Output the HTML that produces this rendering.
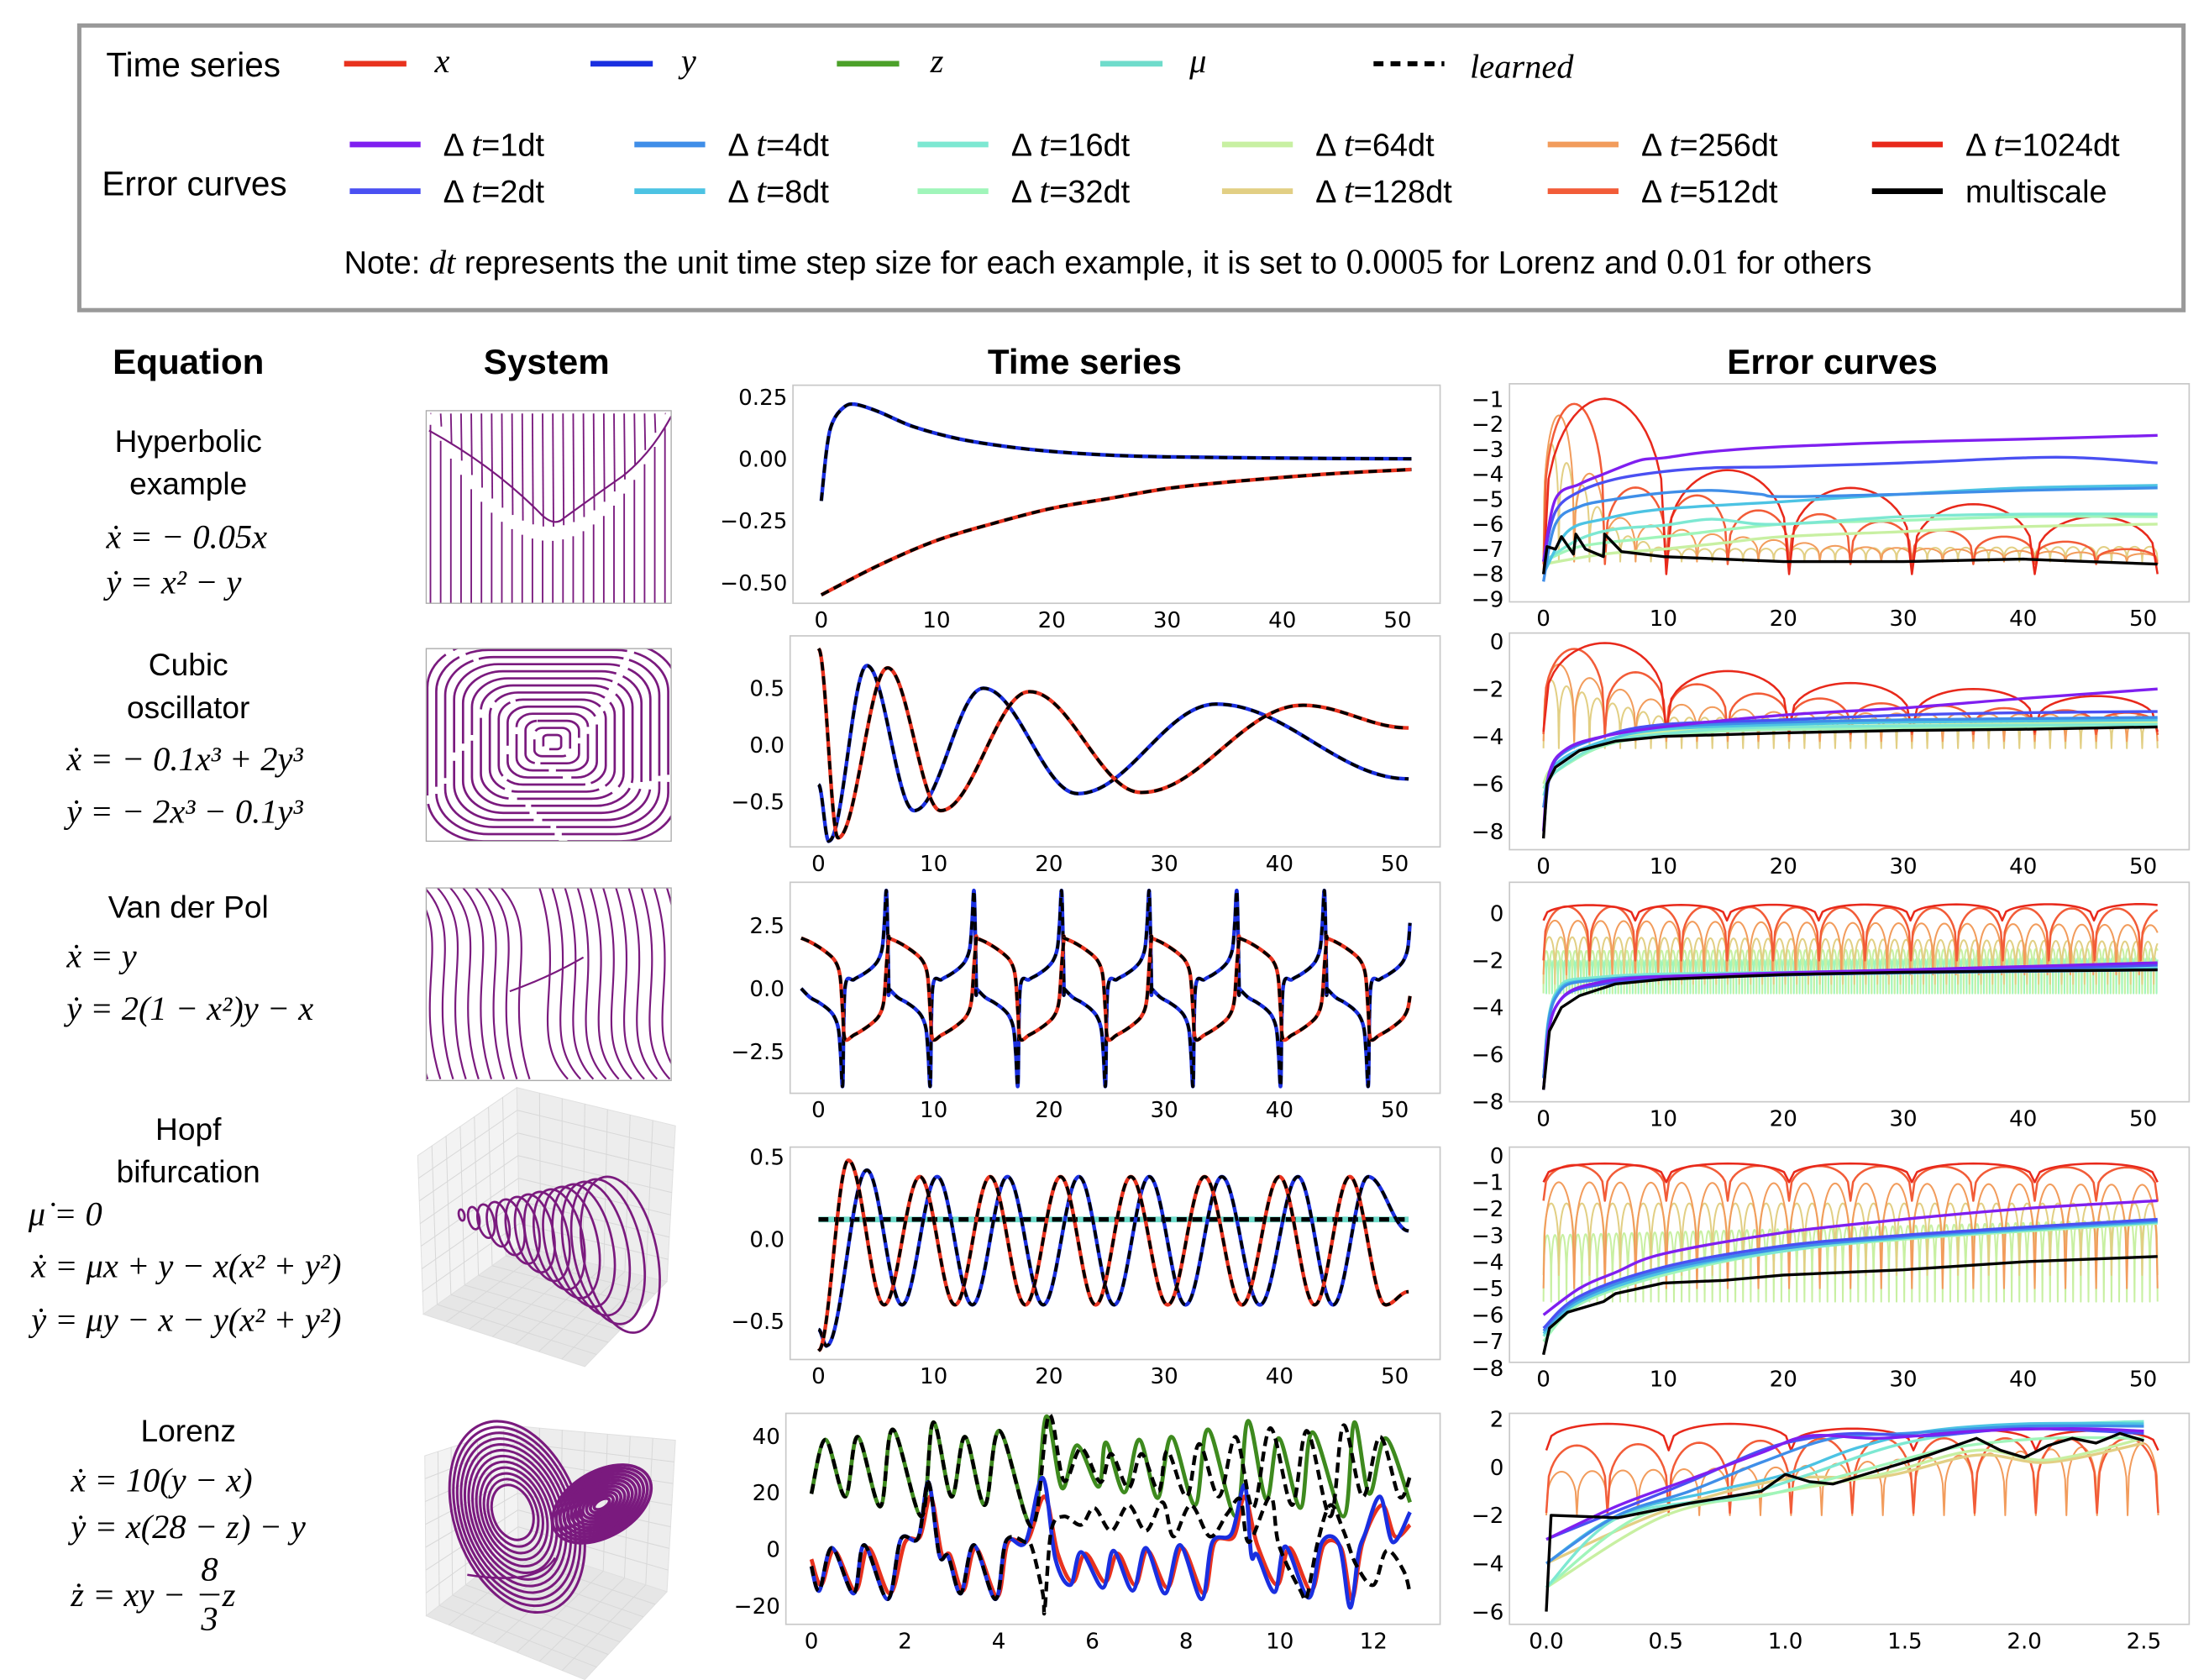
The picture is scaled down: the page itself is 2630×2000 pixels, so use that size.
<!DOCTYPE html>
<html><head><meta charset="utf-8">
<style>
html,body{margin:0;padding:0;background:#fff;}
svg{display:block;}
text{font-family:"Liberation Sans","DejaVu Sans",sans-serif;}
.tk{font-family:"DejaVu Sans","Liberation Sans",sans-serif;font-size:15.5px;fill:#000;}
.math{font-family:"Liberation Serif","DejaVu Serif",serif;font-size:24px;font-style:italic;}
</style></head>
<body>
<svg id="fig" xmlns="http://www.w3.org/2000/svg" width="2630" height="2000" viewBox="0 0 1560 1186.3">
<rect x="0" y="0" width="1560" height="1186.3" fill="#fff"/>
<g>
<rect x="56" y="18" width="1486" height="201" fill="none" stroke="#999" stroke-width="3"/>
<text x="75" y="54" font-size="24">Time series</text>
<line x1="243" y1="45" x2="287" y2="45" stroke="#e8321e" stroke-width="4"/>
<text x="307" y="51" class="math" font-size="27">x</text>
<line x1="417" y1="45" x2="461" y2="45" stroke="#1a2fe0" stroke-width="4"/>
<text x="481" y="51" class="math" font-size="27">y</text>
<line x1="591" y1="45" x2="635" y2="45" stroke="#4ca12a" stroke-width="4"/>
<text x="657" y="51" class="math" font-size="27">z</text>
<line x1="777" y1="45" x2="821" y2="45" stroke="#6fdccb" stroke-width="4"/>
<text x="840" y="51" class="math" font-size="27">μ</text>
<line x1="970" y1="45" x2="1020" y2="45" stroke="#000" stroke-width="3.5" stroke-dasharray="7,5"/>
<text x="1038" y="55" class="math" font-size="29">learned</text>
<text x="72" y="138" font-size="24">Error curves</text>
<g id="errLegend"></g>
<text x="243" y="193" font-size="22.5">Note: <tspan class="math" font-size="25">dt</tspan> represents the unit time step size for each example, it is set to <tspan font-family="Liberation Serif" font-size="25">0.0005</tspan> for Lorenz and <tspan font-family="Liberation Serif" font-size="25">0.01</tspan> for others</text>
</g>
<text x="133" y="264" font-size="25" font-weight="bold" text-anchor="middle">Equation</text>
<text x="386" y="264" font-size="25" font-weight="bold" text-anchor="middle">System</text>
<text x="766" y="264" font-size="25" font-weight="bold" text-anchor="middle">Time series</text>
<text x="1294" y="264" font-size="25" font-weight="bold" text-anchor="middle">Error curves</text>
<g font-size="22">
<text x="133" y="319" text-anchor="middle">Hyperbolic</text>
<text x="133" y="349" text-anchor="middle">example</text>
<text x="75" y="387" class="math">ẋ = − 0.05x</text>
<text x="75" y="419" class="math">ẏ = x² − y</text>
<text x="133" y="477" text-anchor="middle">Cubic</text>
<text x="133" y="507" text-anchor="middle">oscillator</text>
<text x="47" y="544" class="math">ẋ = − 0.1x³ + 2y³</text>
<text x="47" y="581" class="math">ẏ = − 2x³ − 0.1y³</text>
<text x="133" y="648" text-anchor="middle">Van der Pol</text>
<text x="47" y="683" class="math">ẋ = y</text>
<text x="47" y="720" class="math">ẏ = 2(1 − x²)y − x</text>
<text x="133" y="805" text-anchor="middle">Hopf</text>
<text x="133" y="835" text-anchor="middle">bifurcation</text>
<text x="20" y="865" class="math">μ̇ = 0</text>
<text x="22" y="902" class="math">ẋ = μx + y − x(x² + y²)</text>
<text x="22" y="940" class="math">ẏ = μy − x − y(x² + y²)</text>
<text x="133" y="1018" text-anchor="middle">Lorenz</text>
<text x="50" y="1053" class="math">ẋ = 10(y − x)</text>
<text x="50" y="1086" class="math">ẏ = x(28 − z) − y</text>
<text x="50" y="1134" class="math">ż = xy −</text>
<text x="157" y="1134" class="math">z</text>
<text x="148" y="1116" class="math" font-style="normal" text-anchor="middle">8</text>
<line x1="141" y1="1126" x2="155" y2="1126" stroke="#000" stroke-width="1.2"/>
<text x="148" y="1151" class="math" font-style="normal" text-anchor="middle">3</text>
</g>
<g id="systems"></g>
<g id="panels"></g>
</svg>
<script>
// ---------- legend data ----------
const dtLabels = ['1dt','2dt','4dt','8dt','16dt','32dt','64dt','128dt','256dt','512dt','1024dt','multiscale'];
const dtColors = ['#7f1ff0','#4a50f2','#3f8ee8','#4cc3e3','#7de8d2','#a0f5ba','#c8f0a2','#e2cf84','#f29c5c','#f25c38','#e8291b','#000000'];

// ---------- time series data ----------
const hypY = [[0,-0.17],[0.5,0.05],[1,0.15],[2,0.21],[3,0.22],[5,0.19],[8,0.13],[12,0.08],[16,0.05],[20,0.03],[25,0.015],[30,0.008],[40,0.003],[51.2,0.0]];
const hypX = [[0,-0.55],[5,-0.43],[10,-0.33],[15,-0.26],[20,-0.2],[25,-0.16],[30,-0.12],[35,-0.095],[40,-0.075],[45,-0.058],[51.2,-0.043]];
const cubX = [[0,0.85],[1.7,-0.82],[6,0.68],[10.6,-0.58],[18.3,0.47],[28,-0.42],[42,0.35],[51.2,0.15]];
const cubY = [[0,-0.35],[0.9,-0.85],[4.2,0.7],[8.3,-0.58],[14.3,0.5],[22.5,-0.43],[34.5,0.36],[51.2,-0.3]];
const vdpPhase = [0,0.2,0.4,0.6,0.75,0.85,0.9,0.95,1.0];
const vdpXHalf = [2.0,1.85,1.65,1.4,1.15,0.8,0.3,-1.0,-2.0];
const vdpYHalf = [0.0,-0.35,-0.55,-0.8,-1.1,-1.6,-2.6,-3.8,0.0];
const vdpHalfPeriod = [3.8];
const vdpStart = [-1.5];
const hopfA = [[0,-0.68],[2.6,0.48],[5.7,-0.4],[8.8,0.38],[11.85,-0.4],[14.9,0.38],[17.95,-0.4],[21,0.38],[24.05,-0.4],[27.1,0.38],[30.3,-0.4],[33.5,0.38],[36.75,-0.4],[40,0.38],[43.05,-0.4],[46.1,0.38],[49.2,-0.4],[51.2,-0.32]];
const hopfB = [[0,-0.55],[0.7,-0.65],[4.2,0.42],[7.25,-0.4],[10.3,0.38],[13.35,-0.4],[16.4,0.38],[19.5,-0.4],[22.6,0.38],[25.65,-0.4],[28.7,0.38],[31.85,-0.4],[35,0.38],[38.3,-0.4],[41.6,0.38],[44.65,-0.4],[47.7,0.38],[51.2,0.05]];
const hopfMu = [[0,0.12],[51.2,0.12]];
const lorZ = [[0,19.6],[0.3,38.7],[0.72,18.6],[0.99,39.7],[1.47,15.1],[1.74,42.3],[2.35,11.6],[2.6,44.8],[2.99,18.6],[3.28,39.7],[3.7,15.6],[4.02,41.8],[4.71,8.0],[5.01,46.8],[5.35,21.6],[5.67,36.7],[6.13,22.1],[6.29,37.7],[6.68,20.1],[7.0,38.7],[7.39,18.1],[7.69,39.7],[8.19,15.6],[8.47,42.3],[9.06,11.6],[9.32,45.3],[9.71,17.6],[9.98,39.2],[10.44,14.6],[10.7,41.3],[11.36,11.6],[11.59,44.8],[11.91,19.6],[12.26,39.2],[12.78,16.6]];
const lorZLearned = [[0,19.6],[0.3,38.7],[0.72,18.6],[0.99,39.7],[1.47,15.1],[1.74,42.3],[2.35,11.6],[2.6,44.8],[2.99,18.6],[3.28,39.7],[3.7,15.6],[4.02,41.8],[4.71,8.0],[5.07,47.3],[5.39,24.2],[5.76,35.7],[6.17,23.7],[6.4,33.7],[6.77,21.6],[7.05,33.7],[7.41,20.6],[7.6,34.7],[8.01,18.6],[8.28,37.2],[8.7,18.6],[9.06,39.7],[9.43,14.6],[9.8,42.8],[10.26,15.6],[10.58,41.8],[11.08,11.6],[11.36,43.8],[11.77,18.6],[12.14,39.7],[12.55,18.6],[12.78,25.7]];
const lorY = [[0,-6],[0.17,-14.6],[0.44,0.5],[0.9,-15.6],[1.13,1.5],[1.63,-17.6],[1.91,3.5],[2.28,4],[2.5,23.7],[2.73,-2],[2.92,-2.5],[3.19,-15.6],[3.47,1.5],[3.93,-17.6],[4.16,3],[4.57,2.5],[4.94,25.2],[5.21,-3.5],[5.53,-12.6],[5.76,-1],[6.22,-13.6],[6.45,-0.5],[6.86,-14.6],[7.14,0.5],[7.55,-15.6],[7.87,1.5],[8.33,-17.6],[8.56,2.5],[8.97,5.5],[9.25,22.6],[9.39,-2],[9.52,-2],[9.89,-15.1],[10.12,1],[10.62,-17.1],[10.9,2.5],[11.27,1.5],[11.5,-20.6],[11.68,-1.5],[11.82,5.5],[12.14,18.6],[12.41,2.5],[12.78,13.1]];
const lorX = [[0,-3.5],[0.21,-12.6],[0.49,-0.5],[0.94,-14.6],[1.22,0.5],[1.68,-15.6],[2.0,2.5],[2.32,4.5],[2.55,18.6],[2.78,-1.5],[2.96,-2],[3.24,-14.6],[3.51,0.5],[3.97,-16.6],[4.2,2.5],[4.61,3],[4.98,18.6],[5.26,-1.5],[5.58,-11.6],[5.85,-1.5],[6.27,-11.6],[6.54,-1.5],[6.91,-12.6],[7.18,-0.5],[7.6,-13.6],[7.92,0.5],[8.38,-15.6],[8.61,2.5],[9.02,4.5],[9.25,18.6],[9.52,1.5],[9.94,-12.6],[10.21,0.5],[10.67,-14.6],[10.94,1.5],[11.31,0.5],[11.54,-17.6],[11.77,2.5],[12.18,15.6],[12.46,4.5],[12.78,8.6]];
const lorXYLearned = [[0,-6],[0.17,-14.6],[0.44,0.5],[0.9,-15.6],[1.13,1.5],[1.63,-17.6],[1.91,3.5],[2.28,4],[2.5,23.7],[2.73,-2],[2.92,-2.5],[3.19,-15.6],[3.47,1.5],[3.93,-17.6],[4.16,3],[4.57,2.5],[4.71,0.5],[4.94,-15.6],[4.98,-21.6],[5.12,6.5],[5.39,11.6],[5.76,8.6],[6.04,14.6],[6.4,6.5],[6.77,15.6],[7.14,6.5],[7.5,16.6],[7.73,4.5],[8.1,15.6],[8.51,4.5],[8.88,12.6],[9.16,17.6],[9.34,2.5],[9.8,18.6],[9.98,1.5],[10.44,-14.6],[10.58,-16.6],[10.81,2.5],[11.08,15.6],[11.36,6.5],[11.63,-5.5],[12.0,-12.6],[12.28,-0.5],[12.64,-7.5],[12.78,-15.6]];

// ---------- error curve data (log10 error) ----------
const hypSmooth = [
 [0,[[0,-7.5],[1,-5],[3,-4.4],[5,-4],[8,-3.45],[10,-3.35],[14,-3.1],[20,-2.9],[30,-2.72],[40,-2.6],[51.2,-2.45]]],
 [1,[[0,-7.5],[1,-5.5],[3,-4.7],[6,-4.2],[10,-3.9],[14,-3.75],[20,-3.7],[30,-3.55],[40,-3.35],[45,-3.35],[51.2,-3.55]]],
 [2,[[0,-8.3],[1,-6],[3,-5.3],[6,-5],[10,-4.75],[14,-4.65],[18,-4.8],[20,-4.9],[30,-4.8],[40,-4.65],[51.2,-4.55]]],
 [3,[[0,-8],[2,-6.3],[5,-5.8],[10,-5.4],[20,-5.1],[30,-4.8],[40,-4.55],[51.2,-4.45]]],
 [4,[[0,-7.5],[3,-6.6],[6,-6.2],[10,-6.05],[14,-5.8],[18,-6.0],[22,-5.95],[30,-5.7],[40,-5.6],[51.2,-5.6]]],
 [5,[[0,-7.5],[3,-6.9],[8,-6.6],[12,-6.4],[20,-6.0],[30,-5.85],[40,-5.7],[51.2,-5.7]]],
 [6,[[0,-7.6],[5,-7.2],[10,-7.0],[15,-6.75],[20,-6.5],[30,-6.3],[40,-6.1],[51.2,-6.0]]]
];
const hypArch = [
 [7,1.28,-7.5,[[0,-2.4],[2,-3.6],[4,-5],[6,-6.3],[10,-7.0],[51.2,-6.9]]],
 [8,2.56,-7.5,[[1.3,-1.65],[3.8,-3.95],[6.4,-5.75],[9,-6.05],[14,-6.4],[25,-6.9],[51.2,-7.2]]],
 [9,5.12,-7.6,[[2.5,-1.15],[7.7,-4.55],[12.8,-4.85],[17.9,-5.45],[23,-5.6],[28.2,-5.9],[33.3,-6.25],[38.4,-6.5],[43.5,-6.7],[48.6,-7.0]]],
 [10,10.24,-8.0,[[5,-0.95],[15.4,-3.85],[25.6,-4.55],[35.8,-5.2],[46,-5.7]]]
];
const hypMulti = [[0,-8],[0.3,-6.9],[1,-7],[1.5,-6.5],[2.5,-7.2],[2.7,-6.4],[3.5,-7],[5,-7.3],[5.1,-6.4],[6.5,-7.1],[10,-7.3],[20,-7.5],[30,-7.5],[40,-7.4],[51.2,-7.6]];

const cubSmooth = [
 [0,[[0,-8],[0.5,-5.5],[2,-4.5],[5,-4],[10,-3.6],[20,-3.1],[30,-2.8],[40,-2.4],[51.2,-2.0]]],
 [1,[[0,-8],[1,-5],[5,-4],[10,-3.5],[20,-3.3],[30,-3.1],[40,-3.0],[51.2,-2.95]]],
 [2,[[0,-7],[1,-5],[5,-4],[10,-3.6],[20,-3.4],[30,-3.3],[51.2,-3.2]]],
 [3,[[0,-7],[1,-5.2],[5,-4.2],[10,-3.7],[20,-3.5],[30,-3.4],[51.2,-3.3]]],
 [4,[[0,-6.5],[1,-5.5],[5,-4.3],[10,-3.9],[20,-3.6],[51.2,-3.5]]],
 [5,[[0,-6.2],[1,-5.5],[5,-4.4],[10,-4.0],[20,-3.7],[51.2,-3.6]]],
 [6,[[0,-6],[1,-5.2],[5,-4.2],[10,-3.8],[20,-3.6],[51.2,-3.4]]]
];
const cubArch = [
 [7,1.28,-4.5,[[0,-1.5],[5,-2.5],[10,-3.2],[51.2,-3.3]]],
 [8,2.56,-4.2,[[1,-0.9],[5,-1.8],[10,-2.6],[20,-3.0],[51.2,-3.1]]],
 [9,5.12,-3.9,[[2.5,-0.3],[7.7,-1.3],[12.8,-1.8],[18,-2.2],[23,-2.4],[28,-2.6],[33,-2.7],[38,-2.8],[43.5,-2.9],[48.6,-3.0]]],
 [10,10.24,-3.8,[[5,-0.05],[15.4,-1.25],[25.6,-1.75],[35.8,-2.0],[46,-2.3]]]
];
const cubMulti = [[0,-8.3],[0.3,-6],[1,-5.3],[3,-4.6],[6,-4.2],[10,-4.0],[20,-3.85],[30,-3.75],[40,-3.7],[51.2,-3.6]];

const vdpSmooth = [
 [0,[[0,-7.5],[1,-4],[5,-2.9],[15,-2.6],[30,-2.4],[51.2,-2.1]]],
 [1,[[0,-7.5],[1,-4],[5,-3],[15,-2.7],[30,-2.5],[51.2,-2.2]]],
 [2,[[0,-7],[1,-3.6],[5,-2.8],[20,-2.6],[51.2,-2.4]]],
 [3,[[0,-7],[1,-3.5],[5,-2.8],[20,-2.6],[51.2,-2.35]]],
 [4,[[0,-7],[1,-3.4],[5,-2.7],[20,-2.5],[51.2,-2.3]]]
];
const vdpArch = [
 [5,0.24,-3.4,[[0,-2.0],[51.2,-1.9]]],
 [6,0.48,-3.4,[[0,-1.6],[51.2,-1.5]]],
 [7,0.96,-3.0,[[0,-1.0],[51.2,-1.2]]],
 [8,1.91,-2.6,[[0,-0.3],[51.2,-0.5]]],
 [9,3.83,-2.0,[[0,0.3],[51.2,0.2]]],
 [10,7.65,-0.3,[[0,0.35],[51.2,0.4]]]
];
const vdpMulti = [[0,-7.5],[0.5,-5],[1.5,-4],[3,-3.5],[6,-3],[10,-2.8],[20,-2.6],[30,-2.5],[40,-2.45],[51.2,-2.4]];

const hopfSmooth = [
 [0,[[0,-6],[3,-5],[6,-4.4],[10,-3.7],[20,-2.9],[30,-2.4],[40,-2.0],[51.2,-1.7]]],
 [1,[[0,-6.5],[3,-5.3],[10,-4.2],[20,-3.4],[30,-3.0],[40,-2.7],[51.2,-2.4]]],
 [2,[[0,-6.6],[3,-5.4],[10,-4.3],[20,-3.5],[30,-3.05],[40,-2.75],[51.2,-2.45]]],
 [3,[[0,-6.7],[3,-5.5],[10,-4.4],[20,-3.5],[30,-3.1],[40,-2.8],[51.2,-2.5]]],
 [4,[[0,-6.8],[3,-5.5],[10,-4.4],[20,-3.6],[30,-3.1],[40,-2.8],[51.2,-2.5]]],
 [5,[[0,-7],[3,-5.6],[10,-4.5],[20,-3.6],[30,-3.15],[40,-2.85],[51.2,-2.55]]]
];
const hopfArch = [
 [6,0.64,-5.5,[[0,-3.0],[51.2,-2.4]]],
 [7,1.28,-4.5,[[0,-1.8],[51.2,-1.8]]],
 [8,2.56,-5.0,[[0,-1.0],[51.2,-1.1]]],
 [9,5.12,-1.7,[[0,-0.35],[51.2,-0.45]]],
 [10,10.24,-1.0,[[0,-0.3],[51.2,-0.3]]]
];
const hopfMulti = [[0,-7.5],[0.5,-6.5],[2,-5.9],[5,-5.5],[6,-5.2],[10,-4.8],[15,-4.7],[20,-4.5],[30,-4.3],[40,-4.0],[51.2,-3.8]];

const lorSmooth = [
 [0,[[0,-3],[0.3,-1.6],[0.6,-0.5],[0.9,0.6],[1.1,1.3],[1.4,1.2],[1.8,1.5],[2.2,1.6],[2.5,1.5]]],
 [1,[[0,-3],[0.3,-1.8],[0.6,-0.6],[0.9,0.7],[1.1,1.2],[1.3,1.4],[1.6,1.3],[2.0,1.6],[2.5,1.4]]],
 [2,[[0,-4],[0.3,-2],[0.6,-1],[0.9,0.2],[1.2,1.2],[1.5,1.4],[2,1.7],[2.5,1.7]]],
 [3,[[0,-4],[0.3,-2],[0.7,-1],[1.0,-0.3],[1.3,0.8],[1.6,1.5],[2,1.8],[2.5,1.8]]],
 [4,[[0,-5],[0.3,-2.1],[0.8,-1.2],[1.1,-0.3],[1.5,1.0],[2,1.7],[2.5,1.9]]],
 [5,[[0,-5],[0.4,-2],[0.9,-1.2],[1.3,-0.2],[1.7,0.8],[2.1,1.2],[2.5,1.2]]],
 [6,[[0,-5],[0.5,-2],[1,-1],[1.4,-0.3],[1.8,0.7],[2.1,0.3],[2.5,1.2]]],
 [7,[[0,-4],[0.5,-1.8],[1.0,-0.5],[1.4,-0.4],[1.8,0.5],[2.1,0.2],[2.5,1.0]]]
];
const lorArch = [
 [8,0.128,-2.0,[[0,-0.2],[1,0],[2.5,1]]],
 [9,0.256,-1.9,[[0.13,0.9],[0.6,1.0],[1.2,1.2],[2.5,1.2]]],
 [10,0.512,0.7,[[0.25,1.8],[0.77,1.8],[1.28,1.6],[2.5,1.5]]]
];
const lorMulti = [[0,-6],[0.02,-2],[0.3,-2.1],[0.6,-1.5],[0.9,-1],[1.0,-0.3],[1.1,-0.6],[1.2,-0.7],[1.3,-0.4],[1.5,0.2],[1.6,0.5],[1.8,1.2],[1.9,0.7],[2.0,0.4],[2.1,0.9],[2.2,1.2],[2.3,1.0],[2.4,1.4],[2.5,1.1]];

// ---------- tick data ----------
const tsXTicks50 = [0,10,20,30,40,50];
const lorXTicks = [0,2,4,6,8,10,12];
const errXTicksLor = [0,0.5,1.0,1.5,2.0,2.5];
const errXTickLabelsLor = ['0.0','0.5','1.0','1.5','2.0','2.5'];
const hypYTicks = [0.25,0,-0.25,-0.5];
const hypYTickLabels = ['0.25','0.00','−0.25','−0.50'];
const cubYTicks = [0.5,0,-0.5];
const cubYTickLabels = ['0.5','0.0','−0.5'];
const vdpYTicks = [2.5,0,-2.5];
const vdpYTickLabels = ['2.5','0.0','−2.5'];
const hopfYTicks = [0.5,0,-0.5];
const hopfYTickLabels = ['0.5','0.0','−0.5'];
const lorYTicks = [40,20,0,-20];
const err1YTicks = [-1,-2,-3,-4,-5,-6,-7,-8,-9];
const err2YTicks = [0,-2,-4,-6,-8];
const err4YTicks = [0,-1,-2,-3,-4,-5,-6,-7,-8];
const err5YTicks = [2,0,-2,-4,-6];

// ================= rendering =================
const NS = 'http://www.w3.org/2000/svg';
function el(tag, parent){ const e=document.createElementNS(NS,tag); parent.appendChild(e); return e; }
function fmtMinus(v){ return String(v).replace('-','−'); }

(function(){
  const g=document.getElementById('errLegend');
  const cols=[247,448,648,863,1093,1322];
  dtLabels.forEach((lab,i)=>{
    const c=cols[Math.floor(i/2)], y=(i%2===0)?102:135;
    const ln=el('line',g);
    
    
    ln.setAttribute('x1',c);ln.setAttribute('x2',c+50);ln.setAttribute('y1',y);ln.setAttribute('y2',y);
    ln.setAttribute('stroke',dtColors[i]);ln.setAttribute('stroke-width',4);
    const t=el('text',g);
    
    
    t.setAttribute('x',c+66);t.setAttribute('y',y+8);t.setAttribute('font-size','22.5');
    if(lab==='multiscale'){ t.textContent='multiscale'; }
    else { t.innerHTML='Δ <tspan font-family="Liberation Serif" font-style="italic" font-size="25">t</tspan>='+lab; }
  });
})();

function crPath(pts){
  if(pts.length<2) return '';
  let d='M'+pts[0][0].toFixed(2)+','+pts[0][1].toFixed(2);
  const n=pts.length;
  for(let i=0;i<n-1;i++){
    const p0=pts[Math.max(i-1,0)],p1=pts[i],p2=pts[i+1],p3=pts[Math.min(i+2,n-1)];
    const c1x=p1[0]+(p2[0]-p0[0])/6,c1y=p1[1]+(p2[1]-p0[1])/6;
    const c2x=p2[0]-(p3[0]-p1[0])/6,c2y=p2[1]-(p3[1]-p1[1])/6;
    d+=' C'+c1x.toFixed(2)+','+c1y.toFixed(2)+' '+c2x.toFixed(2)+','+c2y.toFixed(2)+' '+p2[0].toFixed(2)+','+p2[1].toFixed(2);
  }
  return d;
}
function linePath(pts){ return pts.map((p,i)=>(i?'L':'M')+p[0].toFixed(2)+','+p[1].toFixed(2)).join(' '); }
function cosInterp(ext){
  const out=[];
  for(let i=0;i<ext.length-1;i++){
    const a=ext[i],b=ext[i+1];
    for(let k=0;k<16;k++){ const s=k/16; out.push([a[0]+(b[0]-a[0])*s, a[1]+(b[1]-a[1])*(1-Math.cos(Math.PI*s))/2]); }
  }
  out.push(ext[ext.length-1]);
  return out;
}
function envAt(env,t){
  if(t<=env[0][0]) return env[0][1];
  for(let i=0;i<env.length-1;i++){ if(t<=env[i+1][0]){ const s=(t-env[i][0])/(env[i+1][0]-env[i][0]); return env[i][1]+(env[i+1][1]-env[i][1])*s; } }
  return env[env.length-1][1];
}
function archPoints(period,dip,env,tmax){
  const out=[];
  for(let t0=0;t0<tmax;t0+=period){
    const pk=envAt(env,t0+period/2);
    for(let k=0;k<=24;k++){
      const s=k/24, t=t0+s*period;
      if(t>tmax){ out.push([tmax, dip+(pk-dip)*Math.pow(Math.sin(Math.PI*(tmax-t0)/period),0.3)]); break; }
      out.push([t, dip+(pk-dip)*Math.pow(Math.max(Math.sin(Math.PI*s),0),0.3)]);
    }
  }
  return out;
}

const panelsG=document.getElementById('panels');
let clipId=0;
function makePanel(name, box, xa, xb, ya, yb){
  const g=el('g',panelsG);
  
  
  const cid='clip'+(clipId++);
  const cp=el('clipPath',g); cp.setAttribute('id',cid);
  const cr=el('rect',cp); cr.setAttribute('x',box[0]);cr.setAttribute('y',box[1]);cr.setAttribute('width',box[2]-box[0]);cr.setAttribute('height',box[3]-box[1]);
  const fr=el('rect',g);
  
  
  fr.setAttribute('x',box[0]);fr.setAttribute('y',box[1]);fr.setAttribute('width',box[2]-box[0]);fr.setAttribute('height',box[3]-box[1]);
  fr.setAttribute('fill','#fff');fr.setAttribute('stroke','#c8c8c8');fr.setAttribute('stroke-width','1');
  const plot=el('g',g); plot.setAttribute('clip-path','url(#'+cid+')');
  
  
  return {g,plot,box,X:t=>xa+xb*t,Y:v=>ya-yb*v};
}
function ticks(P, xt, xl, yt, yl){
  xt.forEach((t,i)=>{
    const tx=el('text',P.g);
    
    
    tx.setAttribute('class','tk');tx.setAttribute('x',P.X(t));tx.setAttribute('y',P.box[3]+17);tx.setAttribute('text-anchor','middle');
    tx.textContent=xl?xl[i]:fmtMinus(t);
  });
  yt.forEach((v,i)=>{
    const tx=el('text',P.g);
    
    
    tx.setAttribute('class','tk');tx.setAttribute('x',P.box[0]-4);tx.setAttribute('y',P.Y(v)+5.5);tx.setAttribute('text-anchor','end');
    tx.textContent=yl?yl[i]:fmtMinus(v);
  });
}
function series(P, pts, name, color, width, dashed, smooth){
  const px=pts.map(p=>[P.X(p[0]),P.Y(p[1])]);
  const pa=el('path',P.plot);
  
  
  pa.setAttribute('d',smooth===false?linePath(px):crPath(px));
  pa.setAttribute('fill','none');pa.setAttribute('stroke',color);pa.setAttribute('stroke-width',width);
  pa.setAttribute('stroke-linejoin','round');
  if(dashed) pa.setAttribute('stroke-dasharray',dashed);
  return pa;
}
const RED='#e8321e', BLUE='#1a2fe0', GREEN='#3e8a1e', CYAN='#6fdccb';

let P=makePanel('ts-hyperbolic',[560,272,1017,426],580,8.14,324,174.7);
ticks(P,tsXTicks50,null,hypYTicks,hypYTickLabels);
series(P,hypY,'hyp-y-true',BLUE,2.6); series(P,hypY,'hyp-y-learned','#000',2.2,'6,4');
series(P,hypX,'hyp-x-true',RED,2.6); series(P,hypX,'hyp-x-learned','#000',2.2,'6,4');

P=makePanel('ts-cubic',[558,449,1017,598],578,8.14,526,80);
ticks(P,tsXTicks50,null,cubYTicks,cubYTickLabels);
series(P,cosInterp(cubY),'cubic-y-true',BLUE,2.6); series(P,cosInterp(cubY),'cubic-y-learned','#000',2.2,'6,4');
series(P,cosInterp(cubX),'cubic-x-true',RED,2.6); series(P,cosInterp(cubX),'cubic-x-learned','#000',2.2,'6,4');

function vdpBuild(half){
  const out=[]; const H=vdpHalfPeriod[0];
  for(let c=vdpStart[0]; c<52.5; c+=2*H){
    for(let h=0;h<2;h++){
      const sign=h===0?1:-1;
      vdpPhase.forEach((ph,i)=>{ if(h===1&&i===0) return; out.push([c+h*H+ph*H, sign*half[i]]); });
    }
  }
  return out.filter(p=>p[0]<=51.4);
}
P=makePanel('ts-vanderpol',[558,623,1017,772],578,8.14,698,17.8);
ticks(P,tsXTicks50,null,vdpYTicks,vdpYTickLabels);
series(P,vdpBuild(vdpYHalf),'vdp-y-true',BLUE,2.6); series(P,vdpBuild(vdpYHalf),'vdp-y-learned','#000',2.2,'6,4');
series(P,vdpBuild(vdpXHalf),'vdp-x-true',RED,2.6); series(P,vdpBuild(vdpXHalf),'vdp-x-learned','#000',2.2,'6,4');

P=makePanel('ts-hopf',[558,810,1017,960],578,8.14,875,116);
ticks(P,tsXTicks50,null,hopfYTicks,hopfYTickLabels);
series(P,hopfMu,'hopf-mu-true',CYAN,4,null,false); series(P,hopfMu,'hopf-mu-learned','#000',3.2,'7,4',false);
series(P,cosInterp(hopfB),'hopf-y-true',BLUE,2.6); series(P,cosInterp(hopfB),'hopf-y-learned','#000',2.2,'6,4');
series(P,cosInterp(hopfA),'hopf-x-true',RED,2.6); series(P,cosInterp(hopfA),'hopf-x-learned','#000',2.2,'6,4');

P=makePanel('ts-lorenz',[555,998,1017,1147],573,33.08,1094,2);
ticks(P,lorXTicks,null,lorYTicks,null);
series(P,lorZ,'lorenz-z-true',GREEN,2.8);
series(P,lorX,'lorenz-x-true',RED,2.8);
series(P,lorY,'lorenz-y-true',BLUE,2.8);
series(P,lorZLearned,'lorenz-z-learned','#000',2.6,'7,4');
series(P,lorXYLearned,'lorenz-xy-learned','#000',2.6,'7,4');

function errPanel(name, box, xa, xb, ya, yb, tmax, smooth, arch, multi, xt, xl, yt){
  const Q=makePanel(name,box,xa,xb,ya,yb);
  ticks(Q,xt,xl,yt,null);
  arch.slice().sort((a,b)=>a[0]-b[0]).forEach(a=>{
    series(Q,archPoints(a[1],a[2],a[3],tmax),name+'-arch-'+dtLabels[a[0]],dtColors[a[0]],a[0]>=9?1.5:1.2,null,false);
  });
  smooth.slice().reverse().forEach(s=>{
    series(Q,s[1],name+'-curve-'+dtLabels[s[0]],dtColors[s[0]],2.0);
  });
  series(Q,multi,name+'-multiscale','#000',2.0,null,false);
}
errPanel('err-hyperbolic',[1066,271,1546,425],1090,8.47,264.2,17.65,51.2,hypSmooth,hypArch,hypMulti,tsXTicks50,null,err1YTicks);
errPanel('err-cubic',[1066,447,1546,600],1090,8.47,453,16.75,51.2,cubSmooth,cubArch,cubMulti,tsXTicks50,null,err2YTicks);
errPanel('err-vanderpol',[1066,623,1546,778],1090,8.47,645,16.6,51.2,vdpSmooth,vdpArch,vdpMulti,tsXTicks50,null,err2YTicks);
errPanel('err-hopf',[1066,810,1546,962],1090,8.47,816,18.75,51.2,hopfSmooth,hopfArch,hopfMulti,tsXTicks50,null,err4YTicks);
errPanel('err-lorenz',[1066,998,1546,1147],1092,168.8,1036,17,2.56,lorSmooth,lorArch,lorMulti,errXTicksLor,errXTickLabelsLor,err5YTicks);

// ---- system portraits (decorative) ----
const sysG=document.getElementById('systems');
const PURPLE='#7a1a7e';
function sysBox(name,x,y,w,h){
  const g=el('g',sysG);
  
  
  const cid='sclip'+(clipId++);
  const cp=el('clipPath',g); cp.setAttribute('id',cid);
  const r=el('rect',cp); r.setAttribute('x',x);r.setAttribute('y',y);r.setAttribute('width',w);r.setAttribute('height',h);
  const inner=el('g',g); inner.setAttribute('clip-path','url(#'+cid+')');
  const fr=el('rect',g);
  
  
  fr.setAttribute('x',x);fr.setAttribute('y',y);fr.setAttribute('width',w);fr.setAttribute('height',h);
  fr.setAttribute('fill','none');fr.setAttribute('stroke','#aaa');fr.setAttribute('stroke-width','0.8');
  return inner;
}
function pth(parent,d,w,name){
  const p=el('path',parent);
  
  
  p.setAttribute('d',d);p.setAttribute('fill','none');p.setAttribute('stroke',PURPLE);p.setAttribute('stroke-width',w);
  return p;
}
(function(){
  const g=sysBox('system-hyperbolic',301,290,173,136);
  for(let x=304;x<474;x+=7.2){
    const mid=378-0.012*Math.pow(x-388,2);
    pth(g,'M'+x+',292 L'+(x+0.5)+','+(Math.max(mid-6,292)),1.1,'hyperbolic-streamline-top');
    pth(g,'M'+x+','+(Math.max(mid+4,300))+' L'+x+',426',1.1,'hyperbolic-streamline-bottom');
  }
  pth(g,'M303,304 Q350,330 383,364 Q392,372 398,366 Q420,350 440,336 Q460,320 474,294',1.3,'hyperbolic-separatrix');
})();
(function(){
  const g=sysBox('system-cubic',301,458,173,136);
  for(let k=1;k<=14;k++){
    const hw=k*6.3, hh=k*5.0;
    const r=el('rect',g);
    
    
    r.setAttribute('x',390-hw);r.setAttribute('y',524-hh);r.setAttribute('width',2*hw);r.setAttribute('height',2*hh);
    r.setAttribute('rx',hw*0.45);r.setAttribute('ry',hh*0.45);
    r.setAttribute('fill','none');r.setAttribute('stroke',PURPLE);r.setAttribute('stroke-width',1.6);
    r.setAttribute('stroke-dasharray',(20+k*6)+','+(4+k%3));
  }
})();
(function(){
  const g=sysBox('system-vanderpol',301,627,173,136);
  for(let k=-6;k<=6;k++){
    const o=k*9;
    pth(g,'M'+(300+o)+',627 C'+(330+o)+',660 '+(300+o)+',700 '+(320+o)+',762',1.3,'vdp-streamline-left');
    pth(g,'M'+(455+o)+',762 C'+(425+o)+',730 '+(455+o)+',690 '+(435+o)+',627',1.3,'vdp-streamline-right');
  }
  pth(g,'M360,700 Q388,690 412,676',1.3,'vdp-limit-cycle');
})();
function box3d(name, TL,TB,TR,BL,B0,BR,BF){
  const g=el('g',sysG);
  
  
  const panes=[[TL,TB,B0,BL,'#f3f3f3'],[TB,TR,BR,B0,'#ededed'],[BL,B0,BR,BF,'#e6e6e6']];
  panes.forEach(p=>{
    const pg=el('polygon',g);
    
    
    pg.setAttribute('points',p.slice(0,4).map(q=>q.join(',')).join(' '));
    pg.setAttribute('fill',p[4]);pg.setAttribute('stroke','#e0e0e0');pg.setAttribute('stroke-width',0.6);
    for(let i=1;i<7;i++){
      const s=i/7;
      const a=[p[0][0]+(p[1][0]-p[0][0])*s,p[0][1]+(p[1][1]-p[0][1])*s];
      const b=[p[3][0]+(p[2][0]-p[3][0])*s,p[3][1]+(p[2][1]-p[3][1])*s];
      const c=[p[0][0]+(p[3][0]-p[0][0])*s,p[0][1]+(p[3][1]-p[0][1])*s];
      const d=[p[1][0]+(p[2][0]-p[1][0])*s,p[1][1]+(p[2][1]-p[1][1])*s];
      [[a,b],[c,d]].forEach(L=>{
        const ln=el('line',g);
        
        
        ln.setAttribute('x1',L[0][0]);ln.setAttribute('y1',L[0][1]);ln.setAttribute('x2',L[1][0]);ln.setAttribute('y2',L[1][1]);
        ln.setAttribute('stroke','#d8d8d8');ln.setAttribute('stroke-width',0.6);
      });
    }
  });
  return g;
}
(function(){
  const g=box3d('system-hopf',[295,816],[365,768],[477,795],[299,928],[367,880],[471,905],[413,965]);
  for(let i=0;i<14;i++){
    const s=i/13;
    const e=el('ellipse',g);
    
    
    e.setAttribute('cx',326+s*112);e.setAttribute('cy',858+s*28);
    e.setAttribute('rx',2+s*24);e.setAttribute('ry',4+s*52);
    e.setAttribute('transform','rotate(-12 '+(326+s*112)+' '+(858+s*28)+')');
    e.setAttribute('fill','none');e.setAttribute('stroke',PURPLE);e.setAttribute('stroke-width',1.6);
  }
})();
(function(){
  const g=box3d('system-lorenz',[300,1028],[365,1007],[477,1017],[301,1141],[366,1090],[471,1124],[413,1186]);
  for(let i=0;i<12;i++){
    const s=i/11;
    const e=el('ellipse',g);
    
    
    e.setAttribute('cx',362+s*2);e.setAttribute('cy',1068+s*4);e.setAttribute('rx',14+s*30);e.setAttribute('ry',20+s*50);
    e.setAttribute('transform','rotate(-20 362 1068)');
    e.setAttribute('fill','none');e.setAttribute('stroke',PURPLE);e.setAttribute('stroke-width',1.8);
  }
  for(let i=0;i<12;i++){
    const s=i/11;
    const e=el('ellipse',g);
    
    
    e.setAttribute('cx',425);e.setAttribute('cy',1062);e.setAttribute('rx',6+s*32);e.setAttribute('ry',3+s*20);
    e.setAttribute('transform','rotate(-30 425 1062)');
    e.setAttribute('fill','none');e.setAttribute('stroke',PURPLE);e.setAttribute('stroke-width',2.2);
  }
  pth(g,'M392,1100 Q380,1120 330,1112',1.5,'lorenz-tail');
})();
</script>
</body></html>
